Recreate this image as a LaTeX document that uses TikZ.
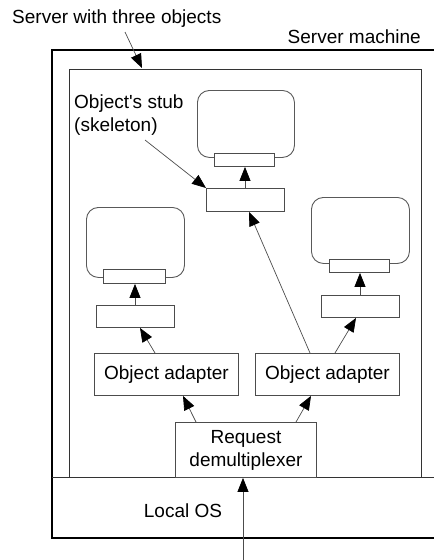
\documentclass[tikz,border=0pt]{standalone}
\usepackage{fontspec}
\setmainfont{Liberation Sans}[Ligatures=TeXOff]
\usetikzlibrary{arrows.meta}
\begin{document}
\begin{tikzpicture}[x=1pt,y=-1pt,
  lbl/.style={font=\fontsize{19}{23}\selectfont, inner sep=0pt},
  boxed/.style={draw=black!70, line width=0.9pt, fill=white, inner sep=0pt, font=\fontsize{19}{23}\selectfont, align=center},
  objbox/.style={draw=black!65, line width=0.9pt, rounded corners=12pt, inner sep=0pt},
  ptr/.style={draw=black!70, line width=0.7pt, -{Triangle[length=14pt,width=11pt,color=black]}}]
\useasboundingbox (0,0) rectangle (434,560);
% outer server machine box (cut at right edge)
\draw[line width=2.2pt] (434,50) -- (52,50) -- (52,538) -- (434,538);
\coordinate (osL) at (52,477);
\coordinate (osR) at (434,477);
\draw[black!80, line width=0.9pt] (osL) -- (osR);
% inner server box
\node[draw=black!80, line width=0.9pt, inner sep=0pt, minimum width=352pt, minimum height=408pt, anchor=north west] (inner) at (69,69) {};
% labels
\node[lbl, anchor=base west] (swto) at (12,23) {Server with three objects};
\node[lbl, anchor=base east] (sm) at (421,43) {Server machine};
\node[lbl, anchor=base west, align=left] (stubl) at (74,131) {Object's stub\\(skeleton)};
\node[lbl, anchor=base] (los) at (183,517) {Local OS};
\coordinate (c1) at (125,32);
\coordinate (c2) at (142,68);
\draw[ptr] (c1) -- (c2);
% objects
\node[objbox, minimum width=97pt, minimum height=67pt, anchor=north west] (o2) at (197,90) {};
\node[objbox, minimum width=98pt, minimum height=70pt, anchor=north west] (o1) at (86,207) {};
\node[objbox, minimum width=98pt, minimum height=66pt, anchor=north west] (o3) at (311,197) {};
% ports
\node[boxed, minimum width=60pt, minimum height=13pt, anchor=north west] (p2) at (214,153) {};
\node[boxed, minimum width=62pt, minimum height=14pt, anchor=north west] (p1) at (103,269) {};
\node[boxed, minimum width=60pt, minimum height=13pt, anchor=north west] (p3) at (329,259) {};
% stubs
\node[boxed, minimum width=78pt, minimum height=23pt, anchor=north west] (s2) at (206,188) {};
\node[boxed, minimum width=78pt, minimum height=22pt, anchor=north west] (s1) at (96,305) {};
\node[boxed, minimum width=78pt, minimum height=22pt, anchor=north west] (s3) at (321,295) {};
% adapters
\node[boxed, minimum width=144pt, minimum height=42pt, anchor=north west] (a1) at (94,353) {Object adapter};
\node[boxed, minimum width=144pt, minimum height=42pt, anchor=north west] (a2) at (255,353) {Object adapter};
% demultiplexer
\node[boxed, minimum width=141pt, minimum height=55pt, anchor=north west] (dm) at (175,422) {Request\\demultiplexer};
% connectors
\coordinate (in) at (243,560);
\draw[ptr] (in) -- (dm.south -| in);
\draw[ptr] (dm.north -| 196,0) -- (a1.south -| 183,0);
\draw[ptr] (dm.north -| 296,0) -- (a2.south -| 311,0);
\draw[ptr] (a1.north -| 155,0) -- (s1.south -| 140,0);
\draw[ptr] (a2.north -| 310,0) -- (s2.south -| 249,0);
\draw[ptr] (a2.north -| 335,0) -- (s3.south -| 356,0);
\draw[ptr] (s1.north -| 135,0) -- (p1.south -| 135,0);
\draw[ptr] (s2.north -| 245,0) -- (p2.south -| 245,0);
\draw[ptr] (s3.north -| 360,0) -- (p3.south -| 360,0);
\coordinate (c3) at (145,140);
\draw[ptr] (c3) -- (s2.north west);
\end{tikzpicture}
\end{document}
